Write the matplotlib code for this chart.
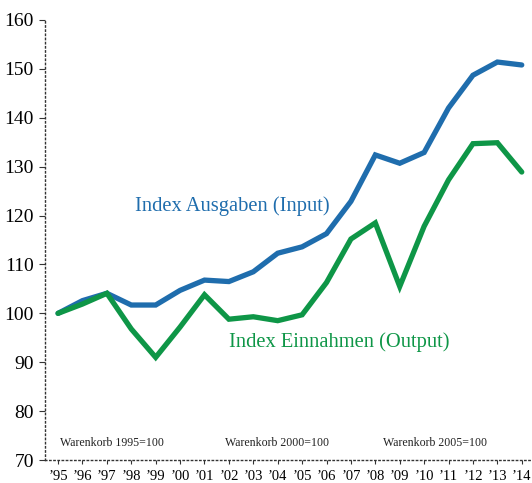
import matplotlib
matplotlib.use("Agg")
import matplotlib.pyplot as plt

years = list(range(1995, 2015))
xlabels = ["\u2019" + str(y)[2:] for y in years]
index_input = [100, 102.6, 104.1, 101.7, 101.7, 104.7, 106.8, 106.5, 108.5, 112.3,
               113.6, 116.3, 122.9, 132.4, 130.7, 132.9, 142.0, 148.7, 151.4, 150.8]
index_output = [100, 101.9, 104.1, 96.8, 91.0, 97.2, 103.8, 98.8, 99.3, 98.5,
                99.7, 106.3, 115.2, 118.5, 105.5, 117.8, 127.3, 134.7, 134.9, 128.9]
yticks = [70, 80, 90, 100, 110, 120, 130, 140, 150, 160]

blue = "#1f6dad"
green = "#0e9647"
serif = ["Liberation Serif", "DejaVu Serif"]

fig = plt.figure(figsize=(5.32, 4.83), dpi=100)
ax = fig.add_axes([0.0846, 0.0476, 0.9154, 0.911])
ax.plot(years, index_input, color=blue, lw=3.8, solid_capstyle="round", solid_joinstyle="miter", zorder=3)
ax.plot(years, index_output, color=green, lw=3.8, solid_capstyle="round", solid_joinstyle="miter", zorder=4)

ax.set_xlim(1994.465, 2014.42)
ax.set_ylim(70, 160)
ax.set_yticks(yticks)
ax.set_yticklabels([str(v) for v in yticks], fontfamily=serif, fontsize=14)
ax.set_xticks(years)
ax.set_xticklabels(xlabels, fontfamily=serif, fontsize=10.5)
ax.tick_params(axis="y", direction="out", length=4, width=0.8, pad=4, color="#333333")
ax.tick_params(axis="x", direction="out", length=3, width=0.8, pad=4, color="#333333")

for s in ["top", "right"]:
    ax.spines[s].set_visible(False)
for s in ["left", "bottom"]:
    ax.spines[s].set_linestyle((0, (1, 2)))
    ax.spines[s].set_linewidth(1.0)
    ax.spines[s].set_color("#333333")

ax.text(1998.17, 122, "Index Ausgaben (Input)", color=blue, fontfamily=serif, fontsize=14.8, ha="left", va="center")
ax.text(2002.0, 94.2, "Index Einnahmen (Output)", color=green, fontfamily=serif, fontsize=14.8, ha="left", va="center")
for x, t in [(1997.2, "Warenkorb 1995=100"), (2003.97, "Warenkorb 2000=100"), (2010.43, "Warenkorb 2005=100")]:
    ax.text(x, 73.5, t, fontfamily=serif, fontsize=8.6, ha="center", va="center", color="#222222")

fig.savefig("out.png", dpi=100)
